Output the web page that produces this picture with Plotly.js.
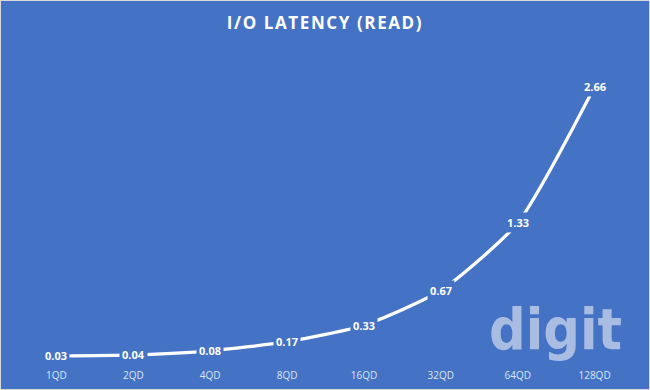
<!DOCTYPE html>
<html><head><meta charset="utf-8">
<script src="https://cdn.plot.ly/plotly-3.0.1.min.js"></script>
<style>
html,body{margin:0;padding:0;background:#4472C4;}
#wrap{position:relative;width:650px;height:390px;}
#chart{width:650px;height:390px;}
#frame{position:absolute;left:0;top:0;width:648px;height:388px;border:1px solid #D9D9D9;pointer-events:none;}
.gtitle{letter-spacing:1.6px;}
</style></head>
<body><div id="wrap"><div id="chart"></div><div id="frame"></div></div>
<script>
const categories = ['1QD','2QD','4QD','8QD','16QD','32QD','64QD','128QD'];
const latency = [0.03, 0.04, 0.08, 0.17, 0.33, 0.67, 1.33, 2.66];
const valueLabels = ['0.03','0.04','0.08','0.17','0.33','0.67','1.33','2.66'];

const bg = '#4472C4';
const trace = {
  x: categories, y: latency, type: 'scatter', mode: 'lines',
  line: {color: '#FFFFFF', width: 3.25, shape: 'spline', smoothing: 0.6},
  hoverinfo: 'skip'
};
const annotations = categories.map((c, i) => ({
  x: c, y: latency[i], xref: 'x', yref: 'y', text: valueLabels[i],
  showarrow: false, bgcolor: bg, borderpad: 2,
  font: {family: 'Open Sans, sans-serif', size: 11, color: '#FFFFFF', weight: 'bold'}
}));
annotations.push({
  xref: 'paper', yref: 'paper', x: 0.874, y: -0.015, xanchor: 'center', yanchor: 'bottom',
  text: 'digit', showarrow: false,
  font: {family: 'DejaVu Sans Condensed, DejaVu Sans, sans-serif', size: 57, color: '#A9BDE3', weight: 'bold'}
});
const layout = {
  width: 650, height: 390,
  paper_bgcolor: bg, plot_bgcolor: bg,
  margin: {l: 18, r: 17, t: 52, b: 31},
  title: {text: 'I/O LATENCY (READ)', x: 0.5, xanchor: 'center', y: 0.941, yanchor: 'middle',
    font: {family: 'Open Sans, sans-serif', size: 17, color: '#FFFFFF', weight: 'bold'}},
  xaxis: {type: 'category', range: [-0.5, 7.5], showgrid: false, zeroline: false, showline: false, ticks: '',
    ticklabelstandoff: 9,
    tickfont: {family: 'Open Sans, sans-serif', size: 10, color: '#DDE5F4'}, fixedrange: true},
  yaxis: {range: [0, 3], showgrid: false, zeroline: false, showline: false, showticklabels: false, fixedrange: true},
  showlegend: false,
  annotations: annotations
};
Plotly.newPlot('chart', [trace], layout, {displayModeBar: false, staticPlot: true});
</script></body></html>
